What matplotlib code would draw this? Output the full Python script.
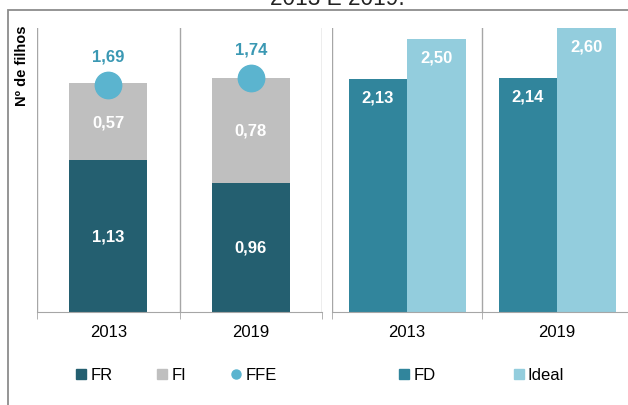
"""Fecundidade: FR/FI/FFE stacked (left) and FD vs Ideal (right), 2013 e 2019."""
import matplotlib
matplotlib.use("Agg")
import matplotlib.pyplot as plt
from matplotlib.lines import Line2D
from matplotlib.patches import Rectangle

plt.rcParams["font.family"] = ["Liberation Sans", "DejaVu Sans"]

# ── data ──
years = ["2013", "2019"]
fr = [1.13, 0.96]          # filhos reais
fi = [0.57, 0.78]          # filhos intencionados
ffe = [1.69, 1.74]         # fecundidade final esperada
fd = [2.13, 2.14]          # filhos desejados
ideal = [2.50, 2.60]       # número ideal

C_FR = "#245F70"
C_FI = "#BFBFBF"
C_FFE = "#5BB4CF"
C_FFE_TXT = "#3A98B3"
C_FD = "#31859C"
C_IDEAL = "#93CDDD"
C_LINE = "#A6A6A6"

W, H = 628, 406
fig = plt.figure(figsize=(W / 100, H / 100), dpi=100)

# outer frame (cropped on right and bottom)
fig.patches.append(Rectangle((8 / W, -0.05), 1.0, 1 - 11 / H + 0.05,
                             transform=fig.transFigure, fill=False,
                             edgecolor="#8C8C8C", linewidth=1.3, clip_on=False))
# cropped title at the top
fig.text(337 / W, 1 - 5 / H, "2013 E 2019.", ha="center", va="baseline",
         fontsize=16.3, color="#222222")


def frame(ax):
    for s in ["top", "right", "left"]:
        ax.spines[s].set_visible(False)
    ax.spines["bottom"].set_color(C_LINE)
    ax.set_yticks([])
    ax.set_xlim(-0.5, 1.5)
    for b in [-0.5, 0.5, 1.5]:
        ax.axvline(b, color=C_LINE, lw=1, zorder=0)
    ax.set_xticks([0, 1])
    ax.set_xticklabels(years, fontsize=12)
    ax.tick_params(axis="x", which="major", length=0, pad=9)
    ax.set_xticks([-0.5, 0.5, 1.5], minor=True)
    ax.tick_params(axis="x", which="minor", length=5, color=C_LINE)


y_bot = 1 - 313 / H
h_ax = (313 - 29) / H

# ── left panel: stacked FR + FI, FFE dot ──
ax1 = fig.add_axes([37 / W, y_bot, 285 / W, h_ax])
frame(ax1)
ax1.set_ylim(0, 2.11)
x = [0, 1]
ax1.bar(x, fr, width=0.55, color=C_FR, zorder=2)
ax1.bar(x, fi, width=0.55, bottom=fr, color=C_FI, zorder=2)
ax1.plot(x, ffe, "o", ms=19, color=C_FFE, zorder=3, clip_on=False)
for i in range(2):
    ax1.text(x[i], fr[i] / 2, f"{fr[i]:.2f}".replace(".", ","), ha="center",
             va="center", color="white", fontsize=12, fontweight="bold")
    ax1.text(x[i], fr[i] + fi[i] / 2, f"{fi[i]:.2f}".replace(".", ","),
             ha="center", va="center", color="white", fontsize=12, fontweight="bold")
    ax1.annotate(f"{ffe[i]:.2f}".replace(".", ","), (x[i], ffe[i]),
                 xytext=(0, 29), textcoords="offset pixels", ha="center",
                 va="center", color=C_FFE_TXT, fontsize=12, fontweight="bold")
fig.text(22 / W, 1 - 66 / H, "Nº de filhos", rotation=90, ha="center",
         va="center", fontsize=10.5, fontweight="bold")

# ── right panel: FD vs Ideal ──
ax2 = fig.add_axes([332 / W, y_bot, 300 / W, h_ax])
frame(ax2)
ax2.set_ylim(0, 2.6)
bw = 0.39
ax2.bar([v - bw / 2 for v in x], fd, width=bw, color=C_FD, zorder=2)
ax2.bar([v + bw / 2 for v in x], ideal, width=bw, color=C_IDEAL, zorder=2)
for i in range(2):
    for xv, val in [(x[i] - bw / 2, fd[i]), (x[i] + bw / 2, ideal[i])]:
        ax2.annotate(f"{val:.2f}".replace(".", ","), (xv, val), xytext=(0, -18),
                     textcoords="offset pixels", ha="center", va="center",
                     color="white", fontsize=12, fontweight="bold")

# ── legends ──
def sq(c, m="s"):
    return Line2D([], [], ls="none", marker=m, ms=6.5, color=c)

leg_kw = dict(frameon=False, fontsize=12, handlelength=0.5, handletextpad=0.3,
              borderpad=0, borderaxespad=0, loc="center left")
fig.legend([sq(C_FR), sq(C_FI), sq(C_FFE, "o")], ["FR", "FI", "FFE"], ncol=3,
           columnspacing=2.75, bbox_to_anchor=(77 / W, 1 - 376 / H), **leg_kw)
fig.legend([sq(C_FD), sq(C_IDEAL)], ["FD", "Ideal"], ncol=2,
           columnspacing=4.75, bbox_to_anchor=(400 / W, 1 - 376 / H), **leg_kw)

fig.savefig("out.png", dpi=100)
